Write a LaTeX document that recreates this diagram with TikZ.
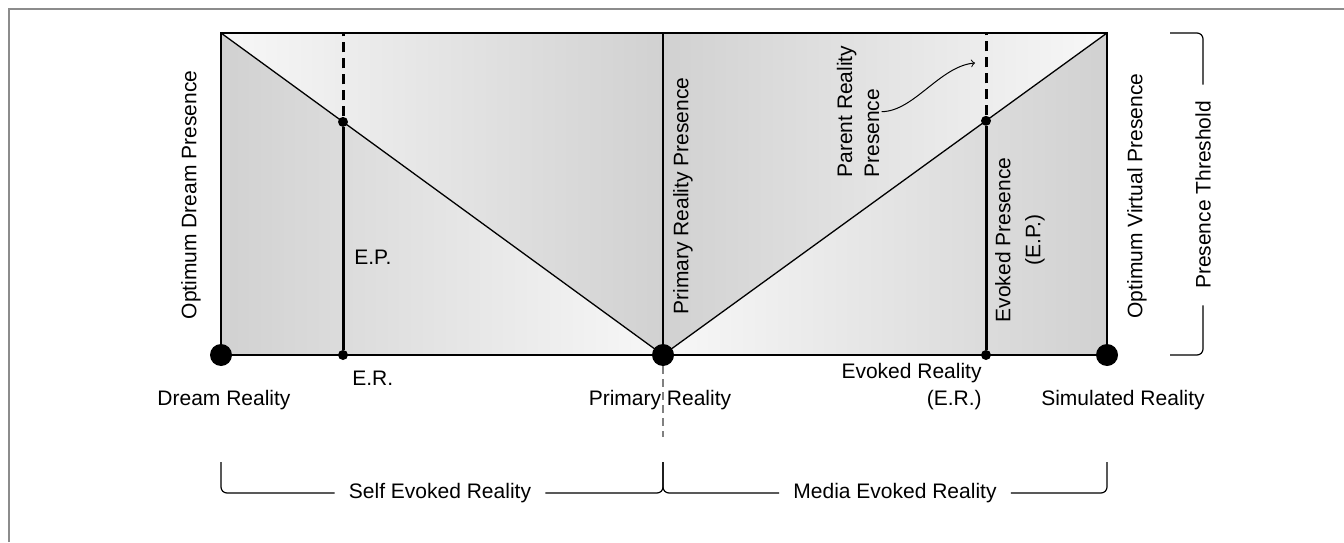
\documentclass[tikz,border=0pt]{standalone}
\usepackage{fontspec}
\setmainfont{Liberation Sans}
\usetikzlibrary{arrows}

\begin{document}
\begin{tikzpicture}[x=0.5pt,y=0.5pt,
    lbl/.style={font=\fontsize{10.5}{13.5}\selectfont,inner sep=1pt},
    bigdot/.style={circle,fill=black,inner sep=0pt,minimum size=11pt},
    smalldot/.style={circle,fill=black,inner sep=0pt,minimum size=5pt},
    thin line/.style={line width=0.65pt},
    ep line/.style={line width=1.5pt},
    brace/.style={line width=0.6pt,rounded corners=3pt}]
                      \useasboundingbox (0,0) rectangle (1344,542);
                      \draw[gray!90,line width=0.6pt] (9,0) -- (9,533) -- (1344,533);
                      \coordinate (tl) at (221,509); \coordinate (tm) at (663,509); \coordinate (tr) at (1107,509);
                      \coordinate (bl) at (221,187); \coordinate (bm) at (663,187); \coordinate (br) at (1107,187);
                      \shade[left color=gray!36,right color=gray!6] (tl) -- (bl) -- (bm) -- cycle;
                      \shade[left color=gray!6,right color=gray!36] (tl) -- (tm) -- (bm) -- cycle;
                      \shade[left color=gray!36,right color=gray!6] (tm) -- (bm) -- (tr) -- cycle;
                      \shade[left color=gray!6,right color=gray!36] (bm) -- (br) -- (tr) -- cycle;
                      \draw[thin line] (tl) rectangle (br);
                      \draw[thin line] (tm) -- (bm);
                      \draw[thin line] (tl) -- (bm) -- (tr);
                      \node[bigdot](dream)at(bl){};
                      \node[bigdot](primary)at(bm){};
                      \node[bigdot](sim)at(br){};
                      \node[smalldot](erl)at(343,187){};
                      \node[smalldot](epl)at(343,420.1){};
                      \node[smalldot](err)at(986,187){};
                      \node[smalldot](epr)at(986,421.2){};
                      \draw[ep line] (erl) -- (epl);
                      \draw[ep line,dash pattern=on 5pt off 3pt] (epl) -- (epl |- tl);
                      \draw[ep line] (err) -- (epr);
                      \draw[ep line,dash pattern=on 5pt off 3pt] (epr) -- (epr |- tr);
                      \coordinate (pdash) at (663,105);
                      \draw[gray,line width=0.6pt,dash pattern=on 4pt off 2.5pt] (primary) -- (pdash);
                      \node[lbl,anchor=west](ep)at(352,285){E.P.};
                      \node[lbl,anchor=west](er)at(350,164){E.R.};
                      \node[lbl](drl)at(224,142){Dream Reality};
                      \node[lbl](prl)at(660,142){Primary Reality};
                      \node[lbl,align=right,anchor=east](erlab)at(984,155.5){Evoked Reality\\(E.R.)};
                      \node[lbl](srl)at(1123,142){Simulated Reality};
                      \node[lbl,rotate=90](odp)at(191,347){Optimum Dream Presence};
                      \node[lbl,rotate=90,anchor=west](prp)at(683,225){Primary Reality Presence};
                      \node[lbl,rotate=90,align=left,anchor=west](parent)at(858,362){Parent Reality\\Presence};
                      \node[lbl,rotate=90,align=center](evp)at(1020,302){Evoked Presence\\[1.5pt](E.P.)};
                      \node[lbl,rotate=90](ovp)at(1137,346){Optimum Virtual Presence};
                      \coordinate (ptip) at (975,479);
                      \draw[->,line width=0.5pt] (parent.south) .. controls +(32,0) and +(-35,-3) .. (ptip);
                      % braces
                      \node[lbl,rotate=90,inner xsep=8pt](thr)at(1203,347){Presence Threshold};
                      \draw[brace] (1170,509) -- (1203,509) -- (thr.east);
                      \draw[brace] (1170,187) -- (1203,187) -- (thr.west);
                      \node[lbl,inner xsep=7pt](self)at(440,49){Self Evoked Reality};
                      \node[lbl,inner xsep=7pt](media)at(895,49){Media Evoked Reality};
                      \draw[brace] (221,80) -- (221,49) -- (self.west);
                      \draw[brace] (self.east) -- (663,49) -- (663,80);
                      \draw[brace] (media.west) -- (663,49) -- (663,80);
                      \draw[brace] (media.east) -- (1107,49) -- (1107,80);
                  \end{tikzpicture}
\end{document}
